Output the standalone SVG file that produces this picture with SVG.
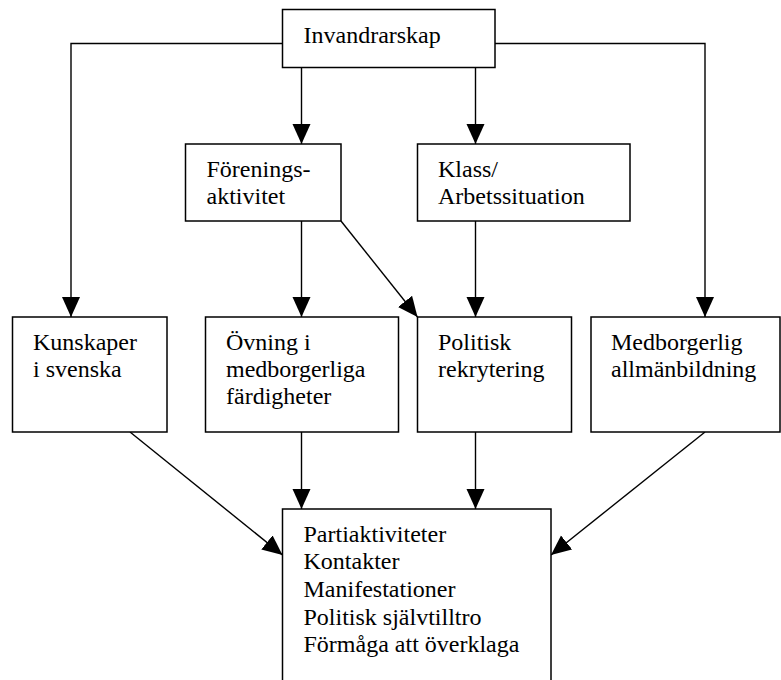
<svg xmlns="http://www.w3.org/2000/svg" width="781" height="680" viewBox="0 0 781 680">
<style>
.box{fill:#fff;stroke:#000;stroke-width:1.5}
.t{font-family:'Liberation Serif','Times New Roman',Tinos,'Nimbus Roman','DejaVu Serif',serif;font-size:24px;fill:#000}
.c{fill:none;stroke:#000;stroke-width:1.4}
</style>
<defs>
<marker id="ah" markerUnits="userSpaceOnUse" markerWidth="22" markerHeight="20" refX="20" refY="9" orient="auto">
<path d="M0,0 L20,9 L0,18 z" fill="#000"/>
</marker>
</defs>
<rect width="781" height="680" fill="#fff"/>
<g id="connectors">
<polyline class="c" points="282.5,43.5 71,43.5 71,317" marker-end="url(#ah)"/>
<polyline class="c" points="495,43.5 705,43.5 705,317" marker-end="url(#ah)"/>
<line class="c" x1="301.5" y1="67.5" x2="301.5" y2="144" marker-end="url(#ah)"/>
<line class="c" x1="475.5" y1="67.5" x2="475.5" y2="144" marker-end="url(#ah)"/>
<line class="c" x1="301.5" y1="221" x2="301.5" y2="317" marker-end="url(#ah)"/>
<line class="c" x1="475.5" y1="221" x2="475.5" y2="317" marker-end="url(#ah)"/>
<line class="c" x1="341" y1="221" x2="417.5" y2="317" marker-end="url(#ah)"/>
<line class="c" x1="130" y1="432" x2="282.5" y2="555" marker-end="url(#ah)"/>
<line class="c" x1="705" y1="432" x2="551" y2="555" marker-end="url(#ah)"/>
<line class="c" x1="301.5" y1="432" x2="301.5" y2="509" marker-end="url(#ah)"/>
<line class="c" x1="475.5" y1="432" x2="475.5" y2="509" marker-end="url(#ah)"/>
</g>
<g id="invandrarskap">
<rect class="box" x="282.5" y="9.5" width="212.5" height="58"/>
<text class="t" font-family="Liberation Serif, serif" x="303.5" y="43">Invandrarskap</text>
</g>
<g id="foreningsaktivitet">
<rect class="box" x="185.5" y="144" width="155.5" height="77"/>
<text class="t" x="206.5" y="177">Förenings-</text>
<text class="t" x="206.5" y="204">aktivitet</text>
</g>
<g id="klass">
<rect class="box" x="417.5" y="144" width="212.5" height="77"/>
<text class="t" x="438" y="177">Klass/</text>
<text class="t" x="438" y="204">Arbetssituation</text>
</g>
<g id="kunskaper">
<rect class="box" x="12.5" y="317" width="154.5" height="115"/>
<text class="t" x="33" y="349.5">Kunskaper</text>
<text class="t" x="33" y="376.5">i svenska</text>
</g>
<g id="ovning">
<rect class="box" x="205.5" y="317" width="193" height="115"/>
<text class="t" x="226" y="349.5">Övning i</text>
<text class="t" x="226" y="376.5">medborgerliga</text>
<text class="t" x="226" y="404">färdigheter</text>
</g>
<g id="politisk">
<rect class="box" x="417.5" y="317" width="154" height="115"/>
<text class="t" x="438" y="349.5">Politisk</text>
<text class="t" x="438" y="376.5">rekrytering</text>
</g>
<g id="medborgerlig">
<rect class="box" x="591" y="317" width="189" height="115"/>
<text class="t" x="611" y="349.5">Medborgerlig</text>
<text class="t" x="611" y="376.5">allmänbildning</text>
</g>
<g id="utfall">
<rect class="box" x="282.5" y="509" width="268.5" height="190"/>
<text class="t" x="303.5" y="541.5">Partiaktiviteter</text>
<text class="t" x="303.5" y="569">Kontakter</text>
<text class="t" x="303.5" y="596.5">Manifestationer</text>
<text class="t" x="303.5" y="624.5">Politisk självtilltro</text>
<text class="t" x="303.5" y="652">Förmåga att överklaga</text>
</g>
</svg>
